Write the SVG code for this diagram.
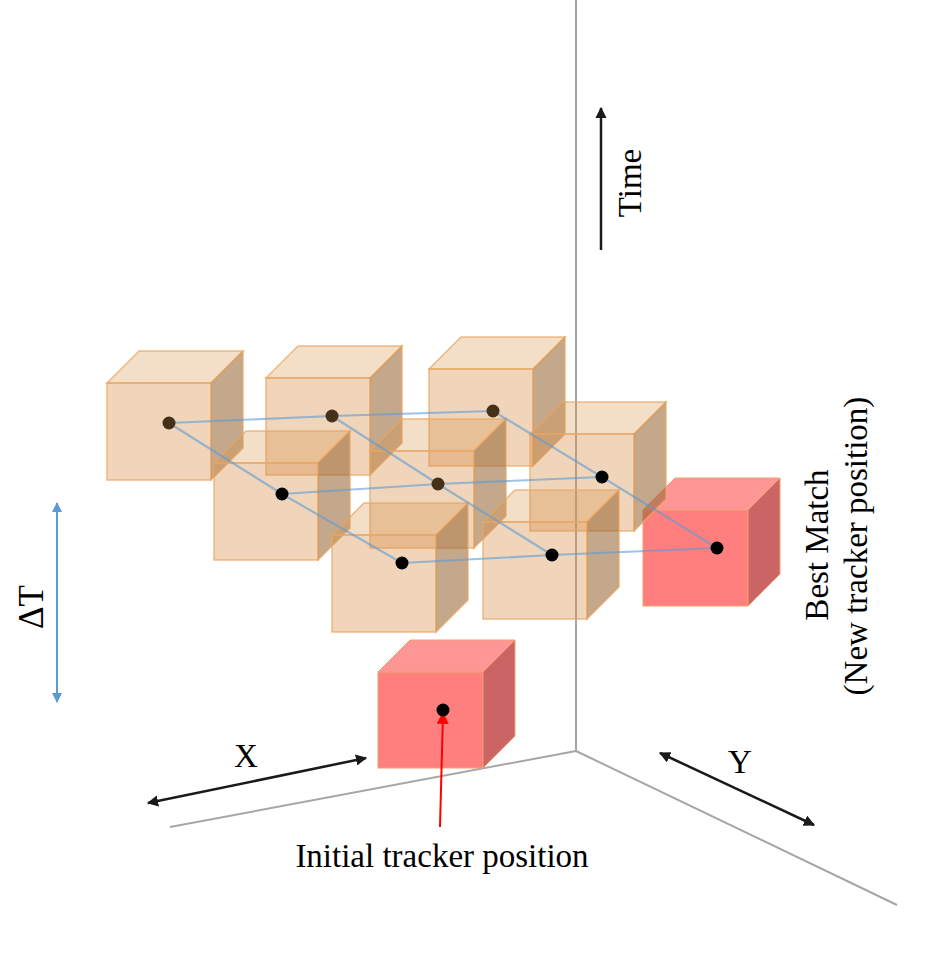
<svg xmlns="http://www.w3.org/2000/svg" xmlns:xlink="http://www.w3.org/1999/xlink" width="928" height="971" viewBox="0 0 928 971">
<style>
.axis{stroke:#a6a6a6;stroke-width:2;fill:none}
.arr{stroke:#1a1a1a;stroke-width:2.5;fill:none}
.lbl{font-family:"Liberation Serif","Times New Roman",serif;font-size:33px;fill:#000}
.tf{fill:#d7914a;fill-opacity:0.38}
.tt{fill:#d7914a;fill-opacity:0.3}
.ts{fill:#966432;fill-opacity:0.56}
.tan path,.tan rect{stroke:#e8a560;stroke-opacity:0.75;stroke-width:1.5}
.rf{fill:#ff7f7f}
.rt{fill:#ff9696}
.rs{fill:#cb6464}
.red path,.red rect{stroke:#f0a070;stroke-width:1}
.link{stroke:#5b9bd5;stroke-opacity:0.6;stroke-width:2.2;fill:none}
</style>
<defs>
<marker id="ah" viewBox="0 0 10 10" refX="9" refY="5" markerWidth="4.5" markerHeight="4.5" orient="auto-start-reverse" markerUnits="strokeWidth">
<path d="M0,0 L10,5 L0,10 z" fill="#1a1a1a"/>
</marker>
<marker id="ahb" viewBox="0 0 10 10" refX="9" refY="5" markerWidth="5" markerHeight="5" orient="auto-start-reverse" markerUnits="strokeWidth">
<path d="M0,0 L10,5 L0,10 z" fill="#5b9bd5"/>
</marker>
<marker id="ahr" viewBox="0 0 10 10" refX="9" refY="5" markerWidth="6" markerHeight="6" orient="auto-start-reverse" markerUnits="strokeWidth">
<path d="M0,0 L10,5 L0,10 z" fill="#ff0000"/>
</marker>
<g id="tanCube" class="tan">
<rect class="tf" x="0" y="0" width="104" height="97"/>
<path class="tt" d="M0,0 L32,-32 L136,-32 L104,0 Z"/>
<path class="ts" d="M104,0 L136,-32 L136,65 L104,97 Z"/>
</g>
<g id="redCube" class="red">
<rect class="rf" x="0" y="0" width="105" height="96"/>
<path class="rt" d="M0,0 L32,-32 L137,-32 L105,0 Z"/>
<path class="rs" d="M105,0 L137,-32 L137,64 L105,96 Z"/>
</g>
</defs>
<rect width="928" height="971" fill="#ffffff"/>

<g id="axes">
<line class="axis" x1="576" y1="0" x2="576" y2="751"/>
<line class="axis" x1="576" y1="751" x2="170" y2="827"/>
<line class="axis" x1="576" y1="751" x2="897" y2="905"/>
</g>

<g id="cube-best" transform="translate(643,510)"><use xlink:href="#redCube"/></g>
<g id="cube-a" transform="translate(107,383)"><use xlink:href="#tanCube"/></g>
<g id="cube-b" transform="translate(266,378)"><use xlink:href="#tanCube"/></g>
<g id="cube-c" transform="translate(429,369)"><use xlink:href="#tanCube"/></g>
<g id="cube-d" transform="translate(214,463)"><use xlink:href="#tanCube"/></g>
<g id="cube-e" transform="translate(370,451)"><use xlink:href="#tanCube"/></g>
<g id="cube-f" transform="translate(530,434)"><use xlink:href="#tanCube"/></g>
<g id="cube-g" transform="translate(332,535)"><use xlink:href="#tanCube"/></g>
<g id="cube-h" transform="translate(483,522)"><use xlink:href="#tanCube"/></g>
<g id="cube-init" transform="translate(378,672)"><use xlink:href="#redCube"/></g>

<g id="connectors">
<polyline class="link" points="169,423 332,416 493,411"/>
<polyline class="link" points="282,494 438,484 602,477"/>
<polyline class="link" points="402,563 552,555 717,548"/>
<polyline class="link" points="169,423 282,494 402,563"/>
<polyline class="link" points="332,416 438,484 552,555"/>
<polyline class="link" points="493,411 602,477 717,548"/>
<line x1="601" y1="250" x2="601" y2="108" class="arr" marker-end="url(#ah)"/>
<line x1="57" y1="503" x2="57" y2="702" stroke="#5b9bd5" stroke-width="2" marker-start="url(#ahb)" marker-end="url(#ahb)"/>
<line x1="148" y1="803" x2="366" y2="758" class="arr" marker-start="url(#ah)" marker-end="url(#ah)"/>
<line x1="660" y1="753" x2="814" y2="825" class="arr" marker-start="url(#ah)" marker-end="url(#ah)"/>
<line x1="440" y1="827" x2="443" y2="713" stroke="#ff0000" stroke-width="2" marker-end="url(#ahr)"/>
</g>

<g id="dots">
<circle cx="169" cy="423" r="6.5" fill="#45301a"/>
<circle cx="332" cy="416" r="6.5" fill="#45301a"/>
<circle cx="493" cy="411" r="6.5" fill="#45301a"/>
<circle cx="282" cy="494" r="6.5" fill="#000"/>
<circle cx="438" cy="484" r="6.5" fill="#45301a"/>
<circle cx="602" cy="477" r="6.5" fill="#000"/>
<circle cx="402" cy="563" r="6.5" fill="#000"/>
<circle cx="552" cy="555" r="6.5" fill="#000"/>
<circle cx="717" cy="548" r="6.5" fill="#000"/>
<circle cx="443" cy="710" r="6.5" fill="#000"/>
</g>

<g id="labels">
<text class="lbl" x="641" y="183" text-anchor="middle" transform="rotate(-90 641 183)">Time</text>
<text class="lbl" x="43" y="607" text-anchor="middle" transform="rotate(-90 43 607)" style="font-size:35px">ΔT</text>
<text class="lbl" x="246" y="767" text-anchor="middle">X</text>
<text class="lbl" x="740" y="773" text-anchor="middle">Y</text>
<text class="lbl" x="442" y="867" text-anchor="middle">Initial tracker position</text>
<text class="lbl" x="828" y="545" text-anchor="middle" transform="rotate(-90 828 545)">Best Match</text>
<text class="lbl" x="867" y="546" text-anchor="middle" transform="rotate(-90 867 546)">(New tracker position)</text>
</g>
</svg>
